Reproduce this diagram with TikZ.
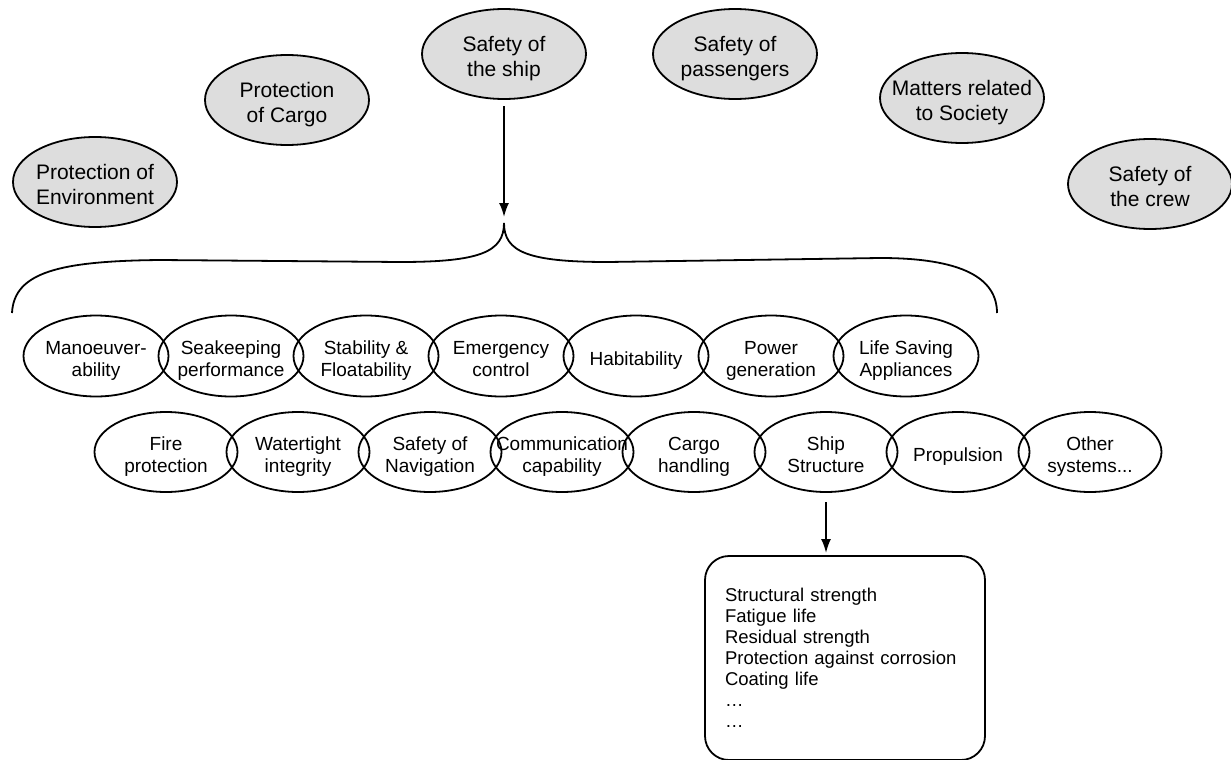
\documentclass[tikz,border=0pt]{standalone}
\usepackage{fontspec}
\setmainfont{Liberation Sans}
\usepackage{tikz}
\usetikzlibrary{shapes.geometric, positioning}
\usetikzlibrary{arrows.meta}
\tikzset{>={Latex[width=10pt,length=14pt]}}
\definecolor{ovalgray}{RGB}{221,221,221}
\newcommand{\ovaltext}[1]{\raisebox{\dimexpr-0.3em-3.5pt\relax}[0pt][0pt]{\makebox[0pt]{\begin{tabular}{@{}c@{}}#1\end{tabular}}}}

\begin{document}
\begin{tikzpicture}[x=1pt, y=-1pt, line width=1.8pt, bignode/.style={ellipse, draw=black, fill=ovalgray, minimum width=164pt, minimum height=90pt, inner sep=0pt, outer sep=0pt, font=\fontsize{21}{25}\selectfont}, node/.style={ellipse, draw=black, minimum width=145pt, minimum height=81pt, inner sep=0pt, outer sep=0pt, font=\fontsize{19}{22}\selectfont}, smallnode/.style={node, minimum width=143pt, minimum height=80pt}, listnode/.style={draw=black, rounded corners=24pt, text width=240pt, inner xsep=20pt, outer sep=0pt, minimum height=204pt, align=left, font=\fontsize{18.5}{21}\selectfont}]
    
    \useasboundingbox (0,0) rectangle (1231,760);
    \clip (0,0) rectangle (1231,760);
    
    %Goals
    \node[bignode](env) at (95,182){\ovaltext{Protection of\\Environment}};
    \node[bignode](cargo) at (287,100){\ovaltext{Protection\\of Cargo}};
    \node[bignode](ship) at (504,54){\ovaltext{Safety of\\the ship}};
    \node[bignode](passengers) at (735,54){\ovaltext{Safety of\\passengers}};
    \node[bignode](society) at (962,98){\ovaltext{Matters related\\to Society}};
    \node[bignode](crew) at (1150,184){\ovaltext{Safety of\\the crew}};
    
    %Functions, first row
    \node[node](manoeuv) at (96,356){\ovaltext{Manoeuver-\\ability}};
    \node[node](seakeeping)[right=-10pt of manoeuv]{\ovaltext{Seakeeping\\performance}};
    \node[node](stability)[right=-10pt of seakeeping]{\ovaltext{Stability \&\\Floatability}};
    \node[node](emergency)[right=-10pt of stability]{\ovaltext{Emergency\\control}};
    \node[node](habitability)[right=-10pt of emergency]{\ovaltext{Habitability}};
    \node[node](power)[right=-10pt of habitability]{\ovaltext{Power\\generation}};
    \node[node](lifesaving)[right=-10pt of power]{\ovaltext{Life Saving\\Appliances}};
    
    %Functions, second row
    \node[smallnode](fire) at (166,452){\ovaltext{Fire\\protection}};
    \node[smallnode](watertight)[right=-11pt of fire]{\ovaltext{Watertight\\integrity}};
    \node[smallnode](navigation)[right=-11pt of watertight]{\ovaltext{Safety of\\Navigation}};
    \node[smallnode](communication)[right=-11pt of navigation]{\ovaltext{Communication\\capability}};
    \node[smallnode](cargohandling)[right=-11pt of communication]{\ovaltext{Cargo\\handling}};
    \node[smallnode](structure)[right=-11pt of cargohandling]{\ovaltext{Ship\\Structure}};
    \node[smallnode](propulsion)[right=-11pt of structure]{\ovaltext{Propulsion}};
    \node[smallnode](other)[right=-11pt of propulsion]{\ovaltext{Other\\systems...}};
    
    %Requirements
    \node[listnode](checks)[below=64pt of structure, xshift=19pt]{Structural strength\\Fatigue life\\Residual strength\\Protection against corrosion\\Coating life\\\dots\\\dots};
    
    %Brace
    \coordinate (bracetip) at (504,223);
    \draw (12,313) .. controls (14,272) and (60,261) .. (160,260) -- (400,262) .. controls (480,262) and (504,252) .. (bracetip) .. controls (504,252) and (528,262) .. (608,262) -- (880,258) .. controls (962,258) and (997,278) .. (997,313);
    
    %Lines
    \draw[->, shorten <=7pt, shorten >=6pt] (ship.south) -- (bracetip);
    \draw[->, shorten <=10pt, shorten >=3pt] (structure.south) -- (structure.south |- checks.north);
    
\end{tikzpicture}
\end{document}
